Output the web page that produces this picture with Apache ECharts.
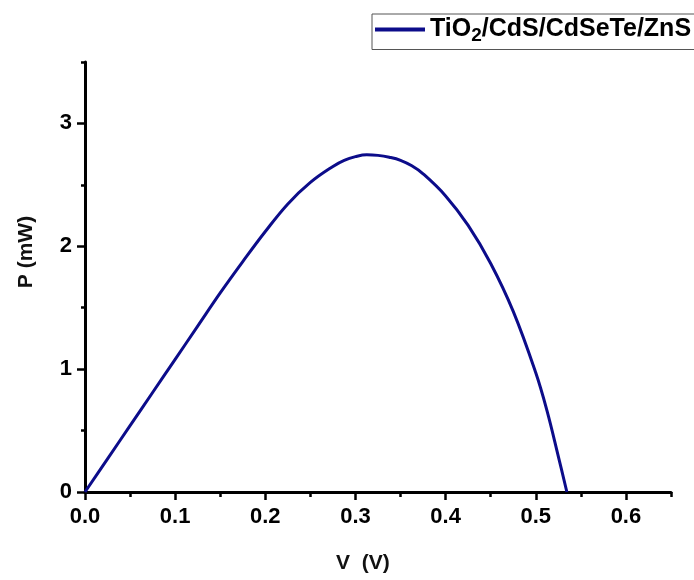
<!DOCTYPE html>
<html>
<head>
<meta charset="utf-8">
<script src="https://cdn.jsdelivr.net/npm/echarts@6/dist/echarts.min.js"></script>
<style>html,body{margin:0;padding:0;background:#fff}#c{width:694px;height:580px}</style>
</head>
<body>
<div id="c"></div>
<script>
var voltage = [0, 0.025, 0.05, 0.075, 0.1, 0.125, 0.15, 0.175, 0.2, 0.225, 0.25, 0.275, 0.2875, 0.3, 0.3125, 0.325, 0.3375, 0.35, 0.3625, 0.375, 0.4, 0.425, 0.45, 0.475, 0.5, 0.5125, 0.525, 0.5345];
var power   = [0, 0.27, 0.54, 0.81, 1.08, 1.35, 1.62, 1.875, 2.12, 2.345, 2.52, 2.65, 2.70, 2.73, 2.745, 2.74, 2.725, 2.70, 2.655, 2.59, 2.41, 2.17, 1.86, 1.47, 0.97, 0.66, 0.29, 0];
var xTickLabels = [0, 0.1, 0.2, 0.3, 0.4, 0.5, 0.6];
var yTickLabels = [0, 1, 2, 3];
var seriesName = 'TiO2/CdS/CdSeTe/ZnS';

var pts = voltage.map(function (v, i) { return [v, power[i]]; });
var lineColor = '#0c0c8a';
var font = 'Liberation Sans, Arial, sans-serif';
var chart = echarts.init(document.getElementById('c'), null, {renderer: 'canvas'});
chart.setOption({
  animation: false,
  backgroundColor: '#fff',
  grid: {left: 85, right: 23, top: 62, bottom: 88},
  legend: {
    data: [seriesName],
    left: 372, top: 14,
    padding: [3, 12, 4, 3],
    borderColor: '#555', borderWidth: 1,
    icon: 'rect', itemWidth: 50, itemHeight: 4, itemGap: 6,
    formatter: function () { return 'TiO{sub|2}/CdS/CdSeTe/ZnS'; },
    textStyle: {
      fontFamily: font, fontSize: 25, fontWeight: 'bold', color: '#000',
      rich: {sub: {fontFamily: font, fontSize: 19, fontWeight: 'bold', color: '#000', padding: [13, 0, 0, 0]}}
    }
  },
  xAxis: [{
    type: 'value', min: 0, max: 0.65, interval: 0.05,
    axisLine: {show: true, lineStyle: {color: '#000', width: 3}},
    axisTick: {show: true, length: 5, lineStyle: {color: '#000', width: 2.5}},
    axisLabel: {show: false}, splitLine: {show: false}
  }, {
    type: 'value', position: 'bottom', min: 0, max: 0.65,
    axisLine: {show: false},
    axisTick: {show: true, length: 8, customValues: xTickLabels, lineStyle: {color: '#000', width: 2.5}},
    axisLabel: {show: true, customValues: xTickLabels, margin: 14, fontFamily: font, fontSize: 22, fontWeight: 'bold', color: '#000',
      formatter: function (v) { return v.toFixed(1); }},
    splitLine: {show: false}
  }],
  yAxis: [{
    type: 'value', min: 0, max: 3.5, interval: 0.5,
    axisLine: {show: true, lineStyle: {color: '#000', width: 3}},
    axisTick: {show: true, length: 4, lineStyle: {color: '#000', width: 2.5}},
    axisLabel: {show: false}, splitLine: {show: false}
  }, {
    type: 'value', position: 'left', min: 0, max: 3.5,
    axisLine: {show: false},
    axisTick: {show: true, length: 8, customValues: yTickLabels, lineStyle: {color: '#000', width: 2.5}},
    axisLabel: {show: true, customValues: yTickLabels, margin: 13, fontFamily: font, fontSize: 22, fontWeight: 'bold', color: '#000'},
    splitLine: {show: false}
  }],
  graphic: [{
    type: 'text', left: 336, top: 553,
    style: {text: 'V  (V)', fontFamily: font, fontSize: 21, fontWeight: 'bold', fill: '#111'}
  }, {
    type: 'text', x: 26, y: 252, rotation: Math.PI / 2,
    style: {text: 'P (mW)', fontFamily: font, fontSize: 21, fontWeight: 'bold', fill: '#111', align: 'center', verticalAlign: 'middle'}
  }],
  series: [{
    name: seriesName, type: 'line', data: pts, smooth: 0.4,
    xAxisIndex: 0, yAxisIndex: 0,
    showSymbol: false, symbol: 'none',
    lineStyle: {color: lineColor, width: 3},
    itemStyle: {color: lineColor}
  }]
});
</script>
</body>
</html>
